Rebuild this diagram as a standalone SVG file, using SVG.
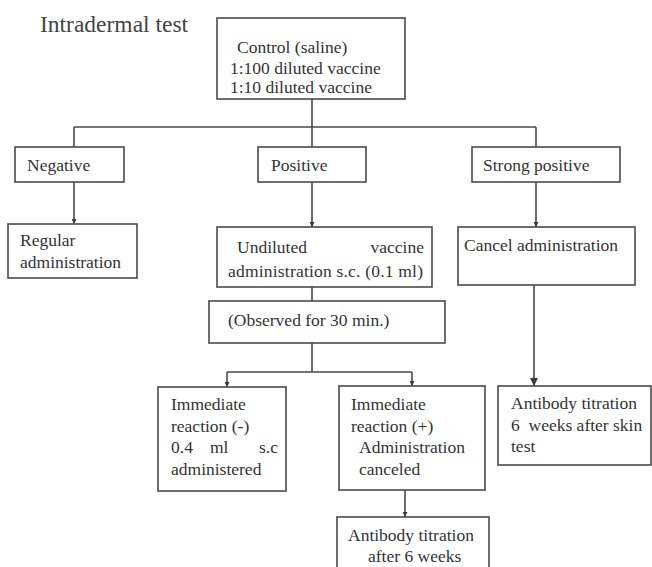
<svg xmlns="http://www.w3.org/2000/svg" width="652" height="567" viewBox="0 0 652 567">
<style>
.box{fill:#fff;stroke:#4a4a4a;stroke-width:1.6}
.t{font-family:"Liberation Serif","Times New Roman",serif;font-size:17.5px;fill:#333}
.title{font-family:"Liberation Serif","Times New Roman",serif;font-size:23.5px;fill:#444}
.c{fill:none;stroke:#4a4a4a;stroke-width:1.6}
</style>
<defs>
<marker id="a" markerUnits="userSpaceOnUse" markerWidth="5" markerHeight="5" refX="10" refY="5" orient="auto" viewBox="0 0 10 10">
<path d="M0,0 L10,5 L0,10 Z" fill="#3a3a3a"/>
</marker>
<marker id="b" markerUnits="userSpaceOnUse" markerWidth="9" markerHeight="8" refX="10" refY="5" orient="auto" viewBox="0 0 10 10">
<path d="M0,0 L10,5 L0,10 Z" fill="#3a3a3a"/>
</marker>
</defs>
<rect width="652" height="567" fill="#fff"/>
<text class="title" x="40" y="32">Intradermal test</text>
<g id="connectors">
<path class="c" d="M312,99 V127 M74,127 H536 M74,127 V147 M312,127 V147 M536,127 V147"/>
<path class="c" d="M74,182 V224" marker-end="url(#a)"/>
<path class="c" d="M312,182 V227" marker-end="url(#a)"/>
<path class="c" d="M536,182 V227" marker-end="url(#a)"/>
<path class="c" d="M312,287 V301"/>
<path class="c" d="M312,343 V372 M227,372 H412"/>
<path class="c" d="M227,372 V387" marker-end="url(#a)"/>
<path class="c" d="M412,372 V386" marker-end="url(#a)"/>
<path class="c" d="M534,285 V386" marker-end="url(#b)"/>
<path class="c" d="M405,490 V517" marker-end="url(#a)"/>
</g>
<g id="control">
<rect class="box" x="217" y="18" width="188" height="81"/>
<text class="t" x="237" y="53">Control (saline)</text>
<text class="t" x="230" y="74">1:100 diluted vaccine</text>
<text class="t" x="230" y="93">1:10 diluted vaccine</text>
</g>
<g id="negative">
<rect class="box" x="15" y="147" width="109" height="35"/>
<text class="t" x="27" y="171">Negative</text>
</g>
<g id="positive">
<rect class="box" x="258" y="147" width="108" height="35"/>
<text class="t" x="271" y="171">Positive</text>
</g>
<g id="strong-positive">
<rect class="box" x="472" y="147" width="148" height="35"/>
<text class="t" x="483" y="171">Strong positive</text>
</g>
<g id="regular">
<rect class="box" x="8" y="224" width="129" height="54"/>
<text class="t" x="20" y="246">Regular</text>
<text class="t" x="20" y="268">administration</text>
</g>
<g id="undiluted">
<rect class="box" x="217" y="227" width="215" height="60"/>
<text class="t" x="237" y="253">Undiluted</text>
<text class="t" x="424" y="253" text-anchor="end">vaccine</text>
<text class="t" x="228" y="277" textLength="195" lengthAdjust="spacing">administration s.c. (0.1 ml)</text>
</g>
<g id="cancel">
<rect class="box" x="458" y="227" width="177" height="58"/>
<text class="t" x="464" y="251">Cancel administration</text>
</g>
<g id="observed">
<rect class="box" x="209" y="301" width="236" height="42"/>
<text class="t" x="228" y="326">(Observed for 30 min.)</text>
</g>
<g id="immediate-neg">
<rect class="box" x="158" y="387" width="128" height="104"/>
<text class="t" x="171" y="410">Immediate</text>
<text class="t" x="171" y="432">reaction (-)</text>
<text class="t" x="171" y="453">0.4</text>
<text class="t" x="210" y="453">ml</text>
<text class="t" x="278" y="453" text-anchor="end">s.c</text>
<text class="t" x="171" y="475">administered</text>
</g>
<g id="immediate-pos">
<rect class="box" x="339" y="386" width="146" height="104"/>
<text class="t" x="351" y="410">Immediate</text>
<text class="t" x="351" y="432">reaction (+)</text>
<text class="t" x="359" y="453">Administration</text>
<text class="t" x="359" y="475">canceled</text>
</g>
<g id="antibody-right">
<rect class="box" x="498" y="386" width="153" height="79"/>
<text class="t" x="511" y="409">Antibody titration</text>
<text class="t" x="511" y="431" xml:space="preserve">6  weeks after skin</text>
<text class="t" x="511" y="452">test</text>
</g>
<g id="antibody-bottom">
<rect class="box" x="337" y="517" width="152" height="60"/>
<text class="t" x="348" y="541">Antibody titration</text>
<text class="t" x="368" y="562">after 6 weeks</text>
</g>
</svg>
